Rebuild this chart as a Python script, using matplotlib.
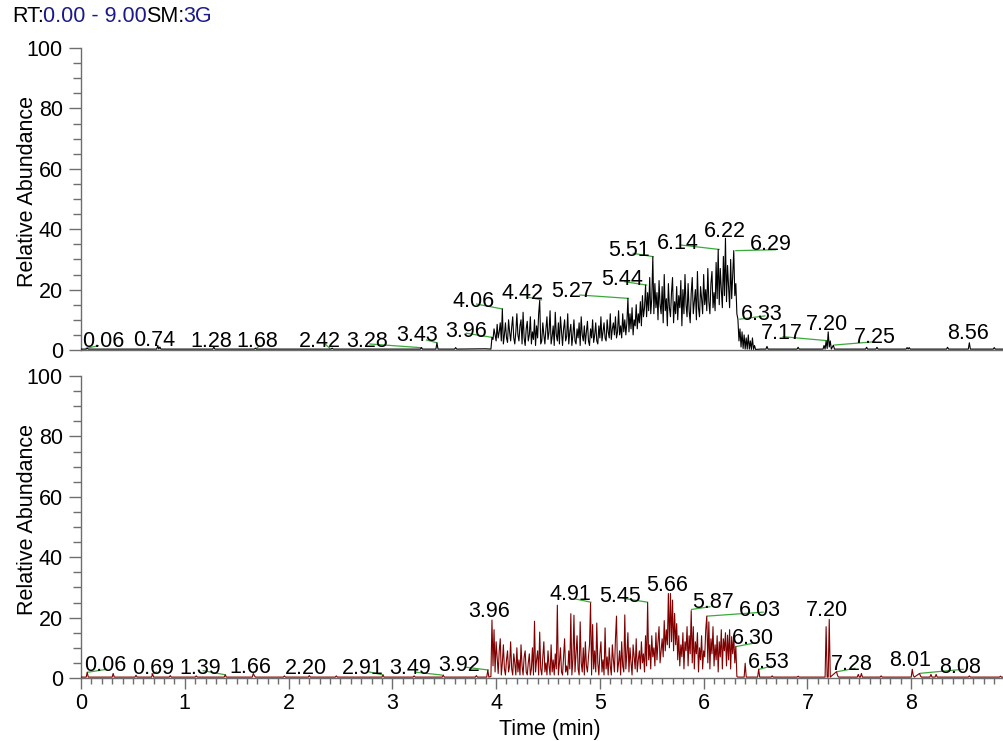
import numpy as np
import matplotlib
matplotlib.use('Agg')
import matplotlib.pyplot as plt
from matplotlib.ticker import MultipleLocator

plt.rcParams['font.family'] = ['Liberation Sans', 'DejaVu Sans']

# ---------------- data: top trace ----------------
top_dense_start = 3.95
top_dense_vals = [
    0.3, 4.2, 3.5, 7, 5, 3, 8.5, 4, 6, 9,
    3, 13.6, 2, 5, 9, 4, 2.5, 10, 6, 3,
    7.5, 11, 4, 2, 6, 12, 5, 3, 8, 10,
    2, 12.5, 4, 1.5, 7, 9.5, 3, 5, 11, 2,
    6, 3.5, 10, 1.5, 8, 4, 12, 16.4, 2, 3,
    9, 5, 2, 7, 11, 3.5, 6, 13, 2, 4.5,
    8, 1.5, 12.5, 5, 3, 9, 2, 11, 6, 1.5,
    7, 10, 3, 4.5, 12, 2, 6, 8.5, 1.5, 5,
    10, 3, 2, 7, 4, 9, 1.5, 11, 5, 3,
    8, 2, 6, 9.5, 3, 1.5, 7, 4, 10, 2.5,
    5, 9, 3, 2, 8, 4, 11, 3, 6, 9,
    4, 3, 10, 6, 4, 12, 3.5, 7, 9, 5,
    11, 4, 6, 13, 5, 8, 4, 12, 6, 10,
    5, 9, 17.1, 6, 12, 7, 14, 5, 10, 8,
    15, 7, 12, 9, 16, 8, 18, 11, 14, 21.5,
    11, 19, 13, 24, 12, 17, 30.9, 12, 22, 14,
    19, 10, 23, 15, 12, 21, 9, 25, 13, 17,
    8, 22, 14, 11, 19, 24, 9, 16, 12, 21,
    10, 18, 14, 23, 8, 20, 12, 25, 15, 11,
    22, 13, 9, 19, 24, 12, 16, 20, 10, 26,
    14, 11, 21, 17, 12, 25, 15, 20, 13, 27,
    16, 12, 22, 26, 14, 19, 13, 29, 17, 33.3,
    15, 27, 20, 14, 31, 18, 37, 16, 28, 21,
    14, 30, 17, 25, 32.9, 18, 22, 12, 10.2, 3,
    7, 1, 6, 0.5, 5, 0.3, 4, 0.3, 5, 0.3,
    3, 0.2, 4, 0.2, 1.5, 0.2,
]
top_base_t = [0.00, 0.05, 0.06, 0.07, 0.40, 0.73, 0.74, 0.75, 0.76, 0.77, 1.27, 1.28, 1.29,
              1.67, 1.68, 1.69, 2.41, 2.42, 2.43, 3.27, 3.28, 3.29, 3.42, 3.43, 3.44, 3.60,
              3.61, 3.62, 3.90,
              6.55, 6.60, 6.61, 6.62, 6.90, 6.91, 6.92, 7.10, 7.15, 7.16, 7.17, 7.18, 7.19,
              7.20, 7.21, 7.22, 7.23, 7.25, 7.26, 7.27, 7.56, 7.57, 7.58, 7.66, 7.67, 7.68,
              7.95, 7.96, 7.97, 7.98, 7.99, 8.34, 8.35, 8.36, 8.55, 8.56, 8.57, 8.79, 8.80,
              8.81, 9.00]
top_base_v = [0.3, 0.3, 0.6, 0.3, 0.3, 0.3, 1.5, 0.3, 1.0, 0.3, 0.3, 1.0, 0.3,
              0.3, 0.6, 0.3, 0.3, 0.6, 0.3, 0.3, 0.8, 0.3, 0.3, 2.4, 0.3, 0.3,
              0.8, 0.3, 0.4,
              0.3, 0.3, 1.2, 0.3, 0.3, 0.9, 0.3, 0.3, 0.3, 1.5, 0.3, 3.0, 0.5,
              6.0, 1.0, 3.0, 0.3, 1.6, 0.3, 0.3, 0.3, 0.9, 0.3, 0.3, 0.9, 0.3,
              0.3, 0.8, 0.3, 0.8, 0.3, 0.3, 0.9, 0.3, 0.3, 2.4, 0.3, 0.3, 0.8,
              0.3, 0.3]

# ---------------- data: bottom trace ----------------
bot_dense_start = 3.95
bot_dense_vals = [
    0.5, 19.2, 4, 16, 2, 12, 7, 1.5, 9, 13,
    1, 5, 11, 3, 1, 6, 9, 2, 4, 12,
    3, 1, 8, 5, 1, 10, 2, 6, 1, 11,
    4, 1, 7, 9, 2, 1, 5, 8, 1, 3,
    10, 1, 18.8, 2, 6, 9, 1, 15.2, 3, 1,
    7, 12, 2, 5, 1, 9, 4, 1, 11, 2,
    6, 1, 8, 3, 24.1, 1, 5, 10, 2, 1,
    7, 13, 2, 4, 1, 9, 3, 21.3, 1, 6,
    20.8, 2, 8, 14, 3, 1, 18.6, 5, 2, 10,
    1, 12, 4, 2, 7, 11, 24.9, 1, 17.7, 3,
    9, 2, 18.2, 5, 1, 8, 12, 2, 6, 1,
    16.6, 3, 7, 1, 10, 4, 1, 11, 6, 2,
    13, 20.5, 2, 5, 9, 1, 12, 4, 2, 20.9,
    3, 8, 15, 2, 10, 5, 1, 11, 7, 3,
    13, 2, 6, 9, 3, 12, 5, 8, 2, 14,
    4, 25, 6, 11, 3, 14, 7, 10, 4, 15,
    6, 12, 17, 5, 9, 13, 7, 19, 9, 16,
    11, 28, 10, 28, 12, 25.8, 9, 21.4, 11, 18,
    6, 14, 4, 11, 7, 15, 3, 12, 9, 17,
    4, 14, 8, 22.3, 5, 17, 3, 12, 8, 15,
    2, 10, 6, 14, 3, 9, 7, 16, 20.5, 5,
    18.6, 3, 13, 8, 17, 4, 11, 6, 14, 2,
    12, 7, 16, 3, 13, 9, 15, 4, 14.2, 6,
    16, 3, 13.7, 8, 14, 5, 10.4, 0.5, 0.3, 0.3,
    0.3, 0.3, 0.3, 0.3, 0.3, 4.9, 0.3,
]
bot_base_t = [0.00, 0.05, 0.06, 0.07, 0.30, 0.31, 0.32, 0.52, 0.53, 0.54, 0.68, 0.69, 0.70,
              0.85, 0.86, 0.87, 1.10, 1.11, 1.12, 1.38, 1.39, 1.40, 1.65, 1.66, 1.67, 1.68,
              1.95, 1.96, 1.97, 2.19, 2.20, 2.21, 2.45, 2.46, 2.47, 2.90, 2.91, 2.92, 3.20,
              3.21, 3.22, 3.48, 3.49, 3.50, 3.80, 3.81, 3.82, 3.91, 3.92, 3.93,
              6.45, 6.52, 6.53, 6.54, 6.60, 6.65, 6.66, 6.67, 6.90, 6.91, 6.92, 7.10,
              7.17, 7.18, 7.19, 7.20, 7.21, 7.22, 7.28, 7.29, 7.30, 7.48, 7.49, 7.50,
              7.51, 7.52, 7.53, 7.70, 7.71, 7.72, 8.00, 8.01, 8.02, 8.03, 8.08, 8.09,
              8.10, 8.18, 8.19, 8.20, 8.23, 8.24, 8.25, 8.55, 8.56, 8.57, 8.85, 8.86,
              8.87, 9.00]
bot_base_v = [0.3, 0.3, 1.9, 0.3, 0.3, 1.5, 0.3, 0.3, 0.9, 0.3, 0.3, 1.3, 0.3,
              0.3, 0.8, 0.3, 0.3, 0.7, 0.3, 0.3, 1.1, 0.3, 0.3, 1.5, 0.8, 0.3,
              0.3, 0.7, 0.3, 0.3, 0.8, 0.3, 0.3, 0.7, 0.3, 0.3, 1.0, 0.3, 0.3,
              0.7, 0.3, 0.3, 1.0, 0.3, 0.3, 0.8, 0.3, 0.3, 2.65, 0.3,
              0.3, 0.3, 2.9, 0.3, 0.3, 0.3, 0.7, 0.3, 0.3, 0.6, 0.3, 0.3,
              0.3, 17.0, 0.3, 0.3, 19.4, 0.3, 2.1, 0.8, 0.3, 0.3, 1.2, 0.3,
              0.3, 1.5, 0.3, 0.3, 0.7, 0.3, 0.3, 2.9, 0.8, 0.3, 1.5, 0.6,
              0.3, 0.3, 1.2, 0.3, 0.3, 1.2, 0.3, 0.3, 0.7, 0.3, 0.3, 0.6,
              0.3, 0.3]

# ---------------- peak labels ----------------
top_labels = ['0.06', '0.74', '1.28', '1.68', '2.42', '3.28', '3.43', '3.96', '4.06', '4.42',
              '5.27', '5.44', '5.51', '6.14', '6.22', '6.29', '6.33', '7.17', '7.20', '7.25',
              '8.56']
top_label_x = [0.212, 0.703, 1.252, 1.696, 2.303, 2.755, 3.237, 3.709, 3.786, 4.258,
               4.730, 5.212, 5.279, 5.751, 6.204, 6.647, 6.561, 6.753, 7.187, 7.649, 8.545]
top_label_y = [2.75, 3.31, 2.75, 2.65, 2.65, 2.65, 4.64, 6.06, 16.0, 18.8,
               19.3, 23.4, 32.9, 35.3, 39.4, 34.8, 11.9, 5.4, 8.6, 4.3, 5.3]
# leaders: (start x, start y, end x, end y)
top_leaders = [
    (0.167, 1.42, 0.048, 0.56), (1.724, 1.42, 1.692, 0.56), (2.351, 1.99, 2.399, 0.56),
    (2.784, 1.99, 3.282, 0.76), (3.330, 3.31, 3.427, 2.42), (3.716, 5.53, 3.957, 4.21),
    (3.812, 15.2, 4.06, 13.6), (4.294, 17.6, 4.438, 16.6), (4.807, 18.2, 5.273, 17.1),
    (5.241, 22.6, 5.450, 21.5), (5.321, 32.0, 5.514, 30.9), (5.771, 34.8, 6.149, 33.3),
    (6.692, 33.2, 6.31, 32.9), (6.590, 11.3, 6.349, 10.2), (6.766, 4.4, 7.190, 3.1),
    (7.649, 2.75, 7.264, 1.66),
]

bot_labels = ['0.06', '0.69', '1.39', '1.66', '2.20', '2.91', '3.49', '3.92', '3.96', '4.91',
              '5.45', '5.66', '5.87', '6.03', '6.30', '6.53', '7.20', '7.28', '8.01', '8.08']
bot_label_x = [0.231, 0.691, 1.146, 1.635, 2.168, 2.714, 3.170, 3.645, 3.936, 4.711,
               5.193, 5.643, 6.092, 6.541, 6.474, 6.628, 7.190, 7.425, 7.993, 8.468]
bot_label_y = [4.04, 3.21, 3.21, 3.54, 3.21, 3.21, 3.21, 4.30, 21.95, 27.5,
               26.9, 30.5, 25.1, 22.5, 13.0, 5.2, 22.3, 4.6, 5.7, 3.6]
bot_leaders = [
    (0.248, 2.88, 0.061, 1.89), (0.729, 1.99, 0.681, 1.32), (1.178, 2.42, 1.387, 1.09),
    (2.768, 2.09, 2.912, 0.99), (3.234, 1.89, 3.475, 0.99), (3.716, 3.54, 3.924, 2.65),
    (4.759, 26.2, 4.913, 25.1), (5.224, 26.4, 5.459, 25.1), (6.060, 23.6, 5.883, 22.7),
    (6.573, 21.8, 6.037, 20.5), (6.509, 11.7, 6.310, 10.4), (6.654, 3.97, 6.535, 2.88),
    (7.457, 3.21, 7.286, 2.09), (8.500, 2.88, 8.089, 1.56),
]

yticks = [0, 20, 40, 60, 80, 100]
xticks = [0, 1, 2, 3, 4, 5, 6, 7, 8]


def build(start, dense, bt, bv):
    td = np.round(start + 0.01 * np.arange(len(dense)), 3)
    t = np.concatenate([np.array(bt), td])
    v = np.concatenate([np.array(bv), np.array(dense, dtype=float)])
    o = np.argsort(t, kind='stable')
    return t[o], v[o]


t_top, v_top = build(top_dense_start, top_dense_vals, top_base_t, top_base_v)
t_bot, v_bot = build(bot_dense_start, bot_dense_vals, bot_base_t, bot_base_v)

fig = plt.figure(figsize=(10.04, 7.41), dpi=100)
L = 81 / 1004
W = 934 / 1004
H = 302 / 741
ax1 = fig.add_axes([L, (741 - 350) / 741, W, H])
ax2 = fig.add_axes([L, (741 - 678) / 741, W, H])

spine_col = '#6e6e6e'
green = '#3aaa3a'
FS = 15.5

for ax in (ax1, ax2):
    ax.set_xlim(0, 9)
    ax.set_ylim(0, 100)
    for s in ('top', 'right'):
        ax.spines[s].set_visible(False)
    for s in ('left', 'bottom'):
        ax.spines[s].set_color(spine_col)
        ax.spines[s].set_linewidth(1.0)
    ax.set_yticks(yticks)
    ax.yaxis.set_minor_locator(MultipleLocator(5))
    ax.tick_params(axis='y', which='major', length=9, width=1, color=spine_col,
                   pad=4, labelsize=FS, direction='out')
    ax.tick_params(axis='y', which='minor', length=6, width=1, color=spine_col,
                   direction='out')
    ax.set_ylabel('Relative Abundance', fontsize=FS)
    ax.yaxis.set_label_coords(-0.0465, 0.525)
    ax.patch.set_alpha(0)

ax1.set_xticks([])
ax1.tick_params(axis='x', which='both', length=0)

ax2.set_xticks(xticks)
ax2.xaxis.set_minor_locator(MultipleLocator(0.1))
ax2.tick_params(axis='x', which='major', length=8, width=1, color=spine_col,
                pad=3, labelsize=FS, direction='out')
ax2.tick_params(axis='x', which='minor', length=4, width=1, color=spine_col,
                direction='out')
ax2.set_xlabel('Time (min)', fontsize=FS)
ax2.xaxis.set_label_coords(0.502, -0.169)
ax2.xaxis.label.set_va('center')

ax1.plot(t_top, v_top, color='black', lw=0.8, zorder=3)
ax2.plot(t_bot, v_bot, color='#800000', lw=0.8, zorder=3)

for ax, labs, lx, ly, leads in ((ax1, top_labels, top_label_x, top_label_y, top_leaders),
                                 (ax2, bot_labels, bot_label_x, bot_label_y, bot_leaders)):
    for (sx, sy, ex, ey) in leads:
        ax.plot([sx, ex], [sy, ey], color=green, lw=0.9, zorder=2)
    for s, x, y in zip(labs, lx, ly):
        ax.text(x, y, s, ha='center', va='center', fontsize=FS, color='black', zorder=4)

# header
navy = '#1a1a8c'
t0 = fig.text(12 / 1004, 1 - 16 / 741, 'RT:', fontsize=FS, color='black', va='center', ha='left')
t1 = fig.text(0, 0, '0.00 - 9.00', fontsize=FS, color=navy)
t2 = fig.text(0, 0, 'SM:', fontsize=FS, color='black')
t3 = fig.text(0, 0, '3G', fontsize=FS, color=navy)
fig.canvas.draw()
r = fig.canvas.get_renderer()
prev = t0
for t in (t1, t2, t3):
    bb = prev.get_window_extent(renderer=r)
    t.set_position(((bb.x1 - 1.0) / fig.bbox.width, 1 - 16 / 741))
    t.set_va('center')
    t.set_ha('left')
    fig.canvas.draw()
    prev = t

fig.savefig('out.png', dpi=100)
